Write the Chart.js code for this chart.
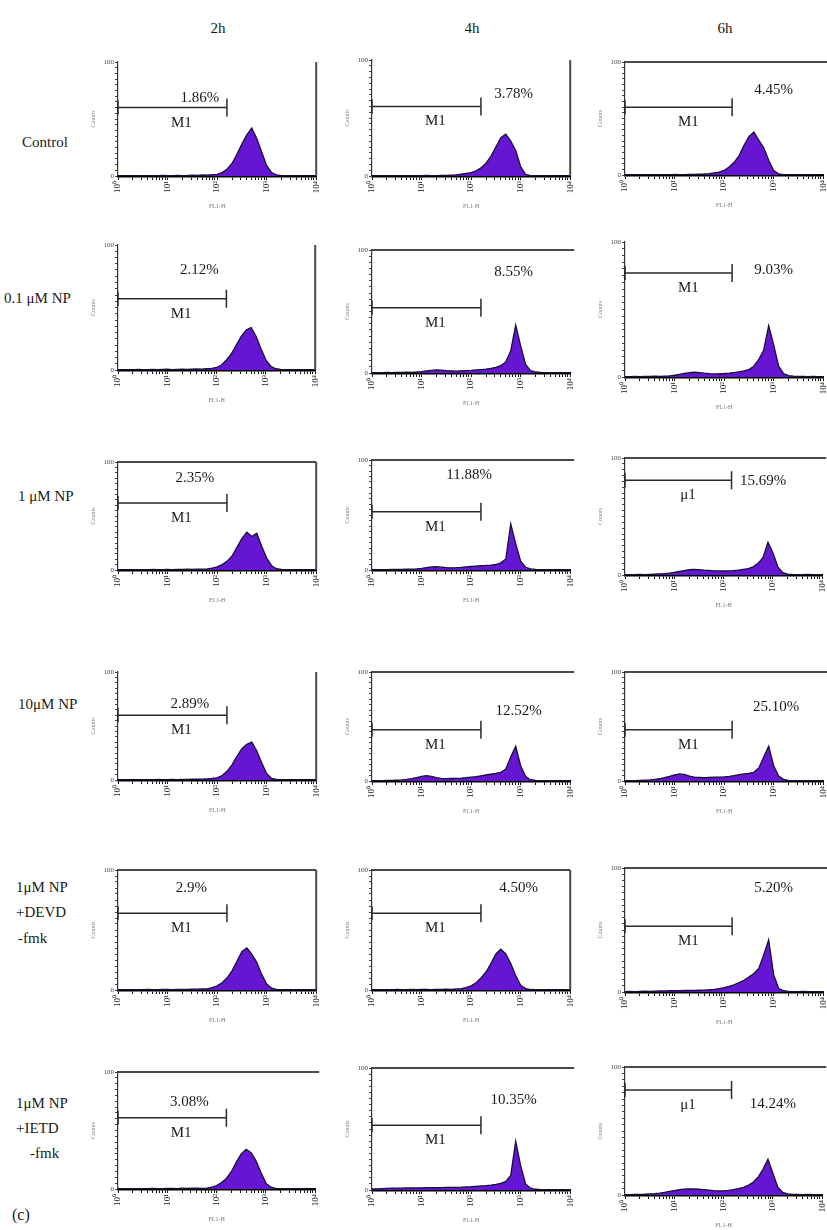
<!DOCTYPE html>
<html><head><meta charset="utf-8">
<script src="https://cdn.jsdelivr.net/npm/chart.js@4.4.0/dist/chart.umd.min.js"></script>
<style>
body{margin:0;background:#fff;}
#fig{position:relative;width:827px;height:1230px;overflow:hidden;font-family:"Liberation Serif","Times New Roman",serif;color:#1a1a1a;}
.lbl{position:absolute;font-size:15px;white-space:nowrap;line-height:1;transform:translateY(-50%);}
.col{position:absolute;font-size:15px;line-height:1;transform:translate(-50%,-50%);}
canvas{position:absolute;}
</style></head><body><div id="fig"></div>
<script>
// ---------------- data ----------------
const channel = [1,1.26,1.58,2,2.51,3.16,3.98,5.01,6.31,7.94,10,12.6,15.8,20,25.1,31.6,39.8,50.1,63.1,79.4,100,126,158,200,251,316,398,501,631,794,1000,1259,1585,1995,2512,3162,3981,5012,6310,7943,10000];
const timePoints = ['2h','4h','6h'];
const treatments = [['Control'],['0.1 μM NP'],['1 μM NP'],['10μM NP'],['1μM NP','+DEVD','-fmk'],['1μM NP','+IETD','-fmk']];
const xTickLabels = ['10⁰','10¹','10²','10³','10⁴'];
const yTickLabels = ['0','100'];

const control_2h = [0,0,0.3,0,0.2,0.4,0,0.3,0.2,0.5, 0.3,0.2,0.6,0.4,0.5,0.8,0.6,0.9,0.7,1.2, 1.5,3,6,11,19,28,36,42,33,21, 9,3,1,0.4,0.2,0,0.3,0,0,0, 0];
const control_4h = [0,0.2,0,0.3,0,0.2,0.3,0,0.4,0.2, 0.3,0.5,0.3,0.4,0.6,0.5,0.8,1.0,1.5,2.2, 3,4.5,7,11,17,25,33,36,30,22, 8,1.5,0.4,0.2,0,0.2,0,0,0,0, 0];
const control_6h = [0,0.3,0,0.2,0.3,0,0.2,0.4,0.3,0.2, 0.5,0.4,0.3,0.6,0.5,0.7,0.9,1.2,1.8,2.5, 4,7,11,17,26,34,38,31,24,13, 4,1,0.3,0.2,0,0.2,0,0,0.2,0, 0];
const np01_2h = [0,0.2,0.3,0,0.4,0.2,0.3,0.5,0.2,0.4, 0.6,0.3,0.5,0.7,0.4,0.6,0.8,0.7,1.0,1.3, 2,4,8,13,20,27,32,34,27,17, 8,3,1,0.4,0.2,0.3,0,0.2,0,0, 0];
const np01_4h = [0.2,0.3,0.2,0.4,0.3,0.5,0.4,0.6,0.5,0.8, 1.2,1.8,2.2,2.5,2.3,2.0,1.8,1.6,1.8,2.0, 2.2,2.5,2.8,3.2,3.8,4.5,6,9,18,39, 22,7,2,0.8,0.4,0.3,0.2,0.3,0,0.2, 0];
const np01_6h = [0.3,0.2,0.4,0.3,0.5,0.4,0.6,0.5,0.7,0.9, 1.3,2.0,2.6,3.2,3.5,3.3,2.8,2.5,2.3,2.4, 2.6,2.9,3.3,3.8,4.5,5.5,8,13,20,38, 24,8,2.5,1,0.6,0.4,0.5,0.3,0.4,0.3, 0.2];
const np1_2h = [0,0.3,0,0.2,0.4,0.3,0.2,0.5,0.3,0.4, 0.5,0.4,0.6,0.5,0.7,0.6,0.8,0.9,1,1.8, 3,5,8,13,21,29,35,31,34,22, 11,4,1.2,0.5,0.3,0.2,0,0.2,0,0, 0];
const np1_4h = [0.2,0.3,0.4,0.3,0.5,0.6,0.5,0.7,0.8,1.0, 1.5,2.2,2.8,3.0,2.6,2.2,2.0,2.1,2.4,2.8, 3.2,3.6,4.0,4.2,4.5,5,6.5,10,42,24, 8,2.5,1,0.5,0.3,0.3,0.2,0.3,0.2,0, 0];
const np1_6h = [0.3,0.2,0.4,0.5,0.4,0.6,0.8,1.0,1.2,1.6, 2.2,3.0,3.8,4.5,4.8,4.6,4.2,4.0,3.6,3.5, 3.4,3.6,3.8,4.2,4.8,5.5,7,10,15,28, 19,7,2,0.8,0.5,0.4,0.3,0.5,0.3,0.4, 0.2];
const np10_2h = [0,0.2,0.3,0,0.2,0.4,0.3,0.2,0.5,0.3, 0.4,0.6,0.3,0.5,0.6,0.8,0.7,0.9,1.1,1.4, 2,4,8,14,22,29,33,35,27,16, 6,1.5,0.5,0.3,0.2,0,0.2,0,0,0, 0];
const np10_4h = [0.3,0.2,0.4,0.5,0.6,0.8,1.0,1.5,2.2,3.2, 4.2,5,4.2,3,2.4,2.2,2.3,2.5,2.7,3, 3.5,4,4.8,5.5,6.2,7,8,11,22,32, 14,4,1.2,0.5,0.3,0.3,0.2,0.3,0.2,0.3, 0.2];
const np10_6h = [0.3,0.4,0.3,0.6,0.8,1.0,1.5,2.2,3,4.2, 5.5,6.5,6,4.5,3.5,3.2,3.0,3.2,3.5,3.6, 3.8,4.2,5,5.8,6.5,7,8,12,22,32, 14,4.5,1.5,0.6,0.3,0.4,0.3,0.3,0.2,0.3, 0.2];
const devd_2h = [0,0.3,0.2,0,0.3,0.2,0.4,0.3,0.2,0.5, 0.4,0.3,0.6,0.5,0.4,0.7,0.8,0.9,1,2, 3.5,6,10,16,24,32,35,30,23,13, 5,1.5,0.5,0.3,0.2,0,0.2,0,0,0, 0];
const devd_4h = [0,0.2,0.3,0.2,0,0.4,0.3,0.2,0.4,0.3, 0.5,0.4,0.3,0.6,0.5,0.7,0.6,0.9,1.2,2, 3.5,6,10,15,22,30,34,30,22,12, 4,1.2,0.4,0.2,0.3,0,0.2,0,0,0, 0];
const devd_6h = [0.3,0.4,0.3,0.5,0.6,0.5,0.7,0.8,0.9,1.0, 1.1,1.0,1.2,1.3,1.2,1.4,1.5,1.8,2.2,2.8, 3.5,4.5,5.8,7.5,9.5,12,15,19,30,42, 14,3,1,0.5,0.3,0.3,0.4,0.3,0.3,0.2, 0.3];
const ietd_2h = [0,0.2,0.3,0.2,0.4,0.3,0.2,0.5,0.4,0.3, 0.6,0.5,0.4,0.7,0.6,0.8,0.7,0.6,0.8,1.5, 3,5.5,9,15,23,30,34,31,24,14, 5,1.5,0.5,0.3,0.2,0,0.2,0,0,0, 0];
const ietd_4h = [0.8,1.0,1.2,1.4,1.5,1.6,1.6,1.7,1.8,1.7, 1.8,1.9,2.0,1.9,2.0,2.1,2.2,2.2,2.3,2.5, 2.7,3,3.3,3.6,4,4.6,5.5,7,12,40, 20,5,1.5,0.6,0.3,0.3,0.2,0.3,0.2,0.2, 0.2];
const ietd_6h = [0.3,0.3,0.4,0.5,0.6,0.8,1.0,1.4,2,2.8, 3.5,4.2,4.6,4.8,4.7,4.5,4.2,3.8,3.4,3.2, 3.3,3.6,4.2,5,6,7.5,10,14,20,28, 17,6,2,0.8,0.4,0.4,0.3,0.4,0.3,0.3, 0.2];

const pct_2h = ['1.86%','2.12%','2.35%','2.89%','2.9%','3.08%'];
const pct_4h = ['3.78%','8.55%','11.88%','12.52%','4.50%','10.35%'];
const pct_6h = ['4.45%','9.03%','15.69%','25.10%','5.20%','14.24%'];
const marker_2h = ['M1','M1','M1','M1','M1','M1'];
const marker_4h = ['M1','M1','M1','M1','M1','M1'];
const marker_6h = ['M1','M1','μ1','M1','M1','μ1'];
const gateEnd = [158,158,145];   // upper channel of the M1 gate, per column

// ---------------- layout ----------------
const seriesGrid = [
  [control_2h, control_4h, control_6h],
  [np01_2h, np01_4h, np01_6h],
  [np1_2h, np1_4h, np1_6h],
  [np10_2h, np10_4h, np10_6h],
  [devd_2h, devd_4h, devd_6h],
  [ietd_2h, ietd_4h, ietd_6h]
];
const pctCols = [pct_2h, pct_4h, pct_6h];
const markerCols = [marker_2h, marker_4h, marker_6h];
const colX = [118, 372, 625];
const plotW = 200;
const boxes = [
  [[62,176],[60,176],[62,175]],
  [[245,370],[250,373],[242,377]],
  [[462,570],[460,570],[458,575]],
  [[672,780],[672,781],[672,781]],
  [[870,990],[870,990],[868,992]],
  [[1072,1189],[1068,1190],[1067,1195]]
];
const frames = [['R','R','T'],['R','T',''],['TR','T','T'],['R','T','T'],['TR','TR','T'],['T','T','T']];
const gateY = [[60,60,60],[57,53,77],[62,53,81],[60,47,47],[64,64,53],[61,53,82]];
const pctPos = [
  [[1.65,68],[2.86,71],[3.0,75]],
  [[1.65,80],[2.86,82],[3.0,79]],
  [[1.55,85],[1.96,86],[2.8,80]],
  [[1.45,70],[2.96,64],[3.05,68]],
  [[1.48,85],[2.96,85],[3.0,84]],
  [[1.45,74],[2.86,74],[3.0,71]]
];
const markerLog = 1.28;
const rowLabelPos = [
  [[22,142]],
  [[4,298]],
  [[18,496]],
  [[18,704]],
  [[16,887],[16,912],[18,938]],
  [[16,1103],[16,1128],[30,1153]]
];

const fig = document.getElementById('fig');
const SERIF = '"Liberation Serif","Times New Roman",serif';

timePoints.forEach((t,c)=>{
  const d=document.createElement('div'); d.className='col'; d.textContent=t;
  d.style.left=(colX[c]+plotW/2)+'px'; d.style.top='28px'; fig.appendChild(d);
});
treatments.forEach((lines,r)=>{
  lines.forEach((txt,k)=>{
    const d=document.createElement('div'); d.className='lbl'; d.textContent=txt;
    d.style.left=rowLabelPos[r][k][0]+'px'; d.style.top=rowLabelPos[r][k][1]+'px'; fig.appendChild(d);
  });
});
const cl=document.createElement('div'); cl.className='lbl'; cl.textContent='(c)';
cl.style.left='12px'; cl.style.top='1215px'; cl.style.fontSize='16px'; fig.appendChild(cl);

const annotPlugin = {
  id:'annot',
  afterDatasetsDraw(chart, args, o){
    const {ctx, chartArea:a, scales:{x,y}} = chart;
    ctx.save();
    ctx.strokeStyle='#4a4a4a'; ctx.lineWidth=2;
    if (o.frame.includes('T')) { ctx.beginPath(); ctx.moveTo(a.left,a.top); ctx.lineTo(a.right+(o.frame.includes('R')?0:4),a.top); ctx.stroke(); }
    if (o.frame.includes('R')) { ctx.beginPath(); ctx.moveTo(a.right,a.top); ctx.lineTo(a.right,a.bottom); ctx.stroke(); }
    const gy = y.getPixelForValue(o.gateLevel);
    const gx0 = x.getPixelForValue(channel[0]), gx1 = x.getPixelForValue(o.gateEnd);
    ctx.strokeStyle='#2a2a2a'; ctx.lineWidth=1.5;
    ctx.beginPath(); ctx.moveTo(gx0,gy); ctx.lineTo(gx1,gy);
    ctx.moveTo(gx0,gy-7); ctx.lineTo(gx0,gy+7);
    ctx.moveTo(gx1,gy-9); ctx.lineTo(gx1,gy+9); ctx.stroke();
    ctx.fillStyle='#1a1a1a'; ctx.font='15px '+SERIF; ctx.textAlign='center'; ctx.textBaseline='middle';
    ctx.fillText(o.marker, x.getPixelForValue(Math.pow(10,o.markerLog)), gy+15);
    ctx.fillText(o.pct, x.getPixelForValue(Math.pow(10,o.pctPos[0])), y.getPixelForValue(o.pctPos[1]));
    ctx.restore();
  }
};

const logTicks = [];
for (let e=0;e<4;e++) for (let m=1;m<10;m++) logTicks.push(m*Math.pow(10,e));
logTicks.push(10000);

for (let r=0;r<6;r++) for (let c=0;c<3;c++) {
  const [top,bottom] = boxes[r][c];
  const H = bottom-top, W = plotW;
  const cv = document.createElement('canvas');
  cv.width = 28+W+10; cv.height = 8+H+34;
  fig.appendChild(cv);
  const values = seriesGrid[r][c];
  const chart = new Chart(cv, {
    type:'line',
    data:{ datasets:[{
      data: channel.map((ch,i)=>({x:ch, y:values[i]})),
      fill:'origin', backgroundColor:'#6416d2', borderColor:'#1a0e3a', borderWidth:1.3,
      pointRadius:0, tension:0
    }]},
    options:{
      responsive:false, animation:false,
      layout:{padding:{top:8,right:10,left:0,bottom:0}},
      plugins:{legend:{display:false}, tooltip:{enabled:false},
        annot:{frame:frames[r][c], gateLevel:gateY[r][c], gateEnd:gateEnd[c], marker:markerCols[c][r],
               markerLog:markerLog, pct:pctCols[c][r], pctPos:pctPos[r][c]}},
      scales:{
        x:{type:'logarithmic', min:1, max:10000,
           afterBuildTicks:s=>{ s.ticks = logTicks.map(v=>({value:v})); },
           afterFit:s=>{ s.height=34; },
           border:{color:'#000', width:2.5},
           grid:{drawOnChartArea:false, drawTicks:true, tickLength:4, color:'#111', lineWidth:1},
           ticks:{autoSkip:false, maxRotation:90, minRotation:90, padding:1, color:'#222',
                  font:{size:9, family:SERIF},
                  callback:(v)=>{ const e=Math.log10(v); return Math.abs(e-Math.round(e))<1e-6 ? xTickLabels[Math.round(e)] : ''; }},
           title:{display:true, text:'FL1-H', color:'#777', font:{size:6, family:SERIF}, padding:0}
        },
        y:{min:0, max:100,
           afterFit:s=>{ s.width=28; },
           border:{color:'#333', width:1.2},
           grid:{drawOnChartArea:false, tickLength:3, color:'#444'},
           ticks:{stepSize:5, autoSkip:false, padding:1, color:'#444', font:{size:7, family:SERIF},
                  callback:(v)=> v===0 ? yTickLabels[0] : (v===100 ? yTickLabels[1] : '')},
           title:{display:true, text:'Counts', color:'#888', font:{size:6, family:SERIF}, padding:0}
        }
      }
    },
    plugins:[annotPlugin]
  });
  let a = chart.chartArea;
  const dw = W-(a.right-a.left), dh = H-(a.bottom-a.top);
  if (Math.abs(dw)>0.5 || Math.abs(dh)>0.5) { chart.resize(chart.width+dw, chart.height+dh); a = chart.chartArea; }
  cv.style.left = (colX[c]-a.left)+'px';
  cv.style.top = (top-a.top)+'px';
}
</script></body></html>
